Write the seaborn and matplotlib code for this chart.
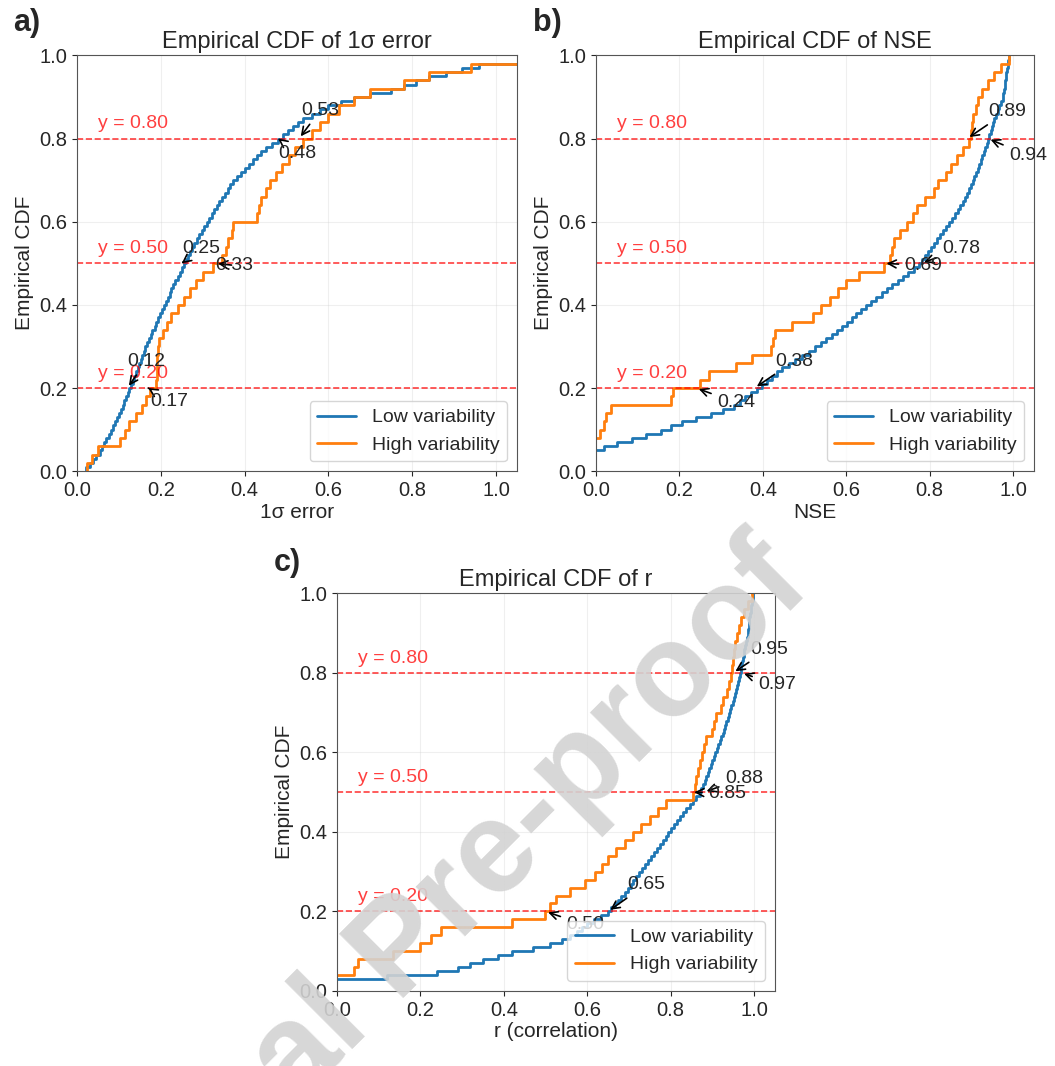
import numpy as np
import pandas as pd
import seaborn as sns
import matplotlib.pyplot as plt

# sample values
err_low = [0.022, 0.03, 0.038, 0.046, 0.055, 0.06, 0.065, 0.07, 0.076, 0.082,
           0.087, 0.091, 0.096, 0.10, 0.105, 0.109, 0.113, 0.117, 0.121, 0.125,
           0.129, 0.133, 0.137, 0.141, 0.145, 0.149, 0.152, 0.156, 0.16, 0.163,
           0.167, 0.172, 0.176, 0.18, 0.185, 0.189, 0.194, 0.198, 0.203, 0.207,
           0.212, 0.216, 0.221, 0.225, 0.23, 0.235, 0.24, 0.245, 0.25, 0.255,
           0.26, 0.265, 0.27, 0.275, 0.28, 0.286, 0.292, 0.298, 0.304, 0.31,
           0.316, 0.322, 0.328, 0.334, 0.34, 0.346, 0.353, 0.36, 0.366, 0.373,
           0.382, 0.391, 0.40, 0.41, 0.42, 0.43, 0.44, 0.45, 0.465, 0.48,
           0.492, 0.504, 0.516, 0.528, 0.54, 0.56, 0.58, 0.60, 0.63, 0.66,
           0.70, 0.75, 0.78, 0.81, 0.84, 0.88, 0.92, 0.96, 1.12, 1.25]
err_high = [0.025, 0.035, 0.05, 0.103, 0.115, 0.125, 0.14, 0.155, 0.165, 0.175,
            0.188, 0.19, 0.19, 0.192, 0.193, 0.195, 0.205, 0.215, 0.225, 0.24,
            0.255, 0.27, 0.285, 0.30, 0.325, 0.345, 0.355, 0.36, 0.37, 0.372,
            0.43, 0.435, 0.44, 0.45, 0.46, 0.475, 0.49, 0.505, 0.52, 0.54,
            0.56, 0.58, 0.60, 0.625, 0.66, 0.70, 0.78, 0.84, 0.94, 1.08]

nse_low = [-0.8, -0.5, -0.3, -0.15, -0.05, 0.02, 0.05, 0.085, 0.12, 0.155,
           0.18, 0.205, 0.24, 0.275, 0.305, 0.33, 0.345, 0.358, 0.372, 0.385,
           0.397, 0.41, 0.422, 0.434, 0.446, 0.462, 0.478, 0.494, 0.51, 0.526,
           0.539, 0.552, 0.565, 0.578, 0.59, 0.601, 0.613, 0.624, 0.636, 0.647,
           0.66, 0.672, 0.685, 0.697, 0.71, 0.723, 0.736, 0.749, 0.762, 0.775,
           0.782, 0.789, 0.796, 0.803, 0.81, 0.817, 0.825, 0.832, 0.84, 0.847,
           0.854, 0.86, 0.867, 0.873, 0.88, 0.885, 0.889, 0.894, 0.898, 0.903,
           0.907, 0.911, 0.915, 0.919, 0.923, 0.926, 0.93, 0.933, 0.937, 0.94,
           0.943, 0.946, 0.949, 0.952, 0.955, 0.959, 0.963, 0.967, 0.971, 0.975,
           0.977, 0.978, 0.98, 0.981, 0.983, 0.984, 0.986, 0.987, 0.989, 0.99]
nse_high = [-0.3, -0.2, -0.1, -0.05, 0.01, 0.02, 0.025, 0.035, 0.18, 0.185,
            0.25, 0.27, 0.335, 0.375, 0.42, 0.425, 0.43, 0.47, 0.52, 0.54,
            0.56, 0.58, 0.60, 0.63, 0.69, 0.705, 0.71, 0.715, 0.73, 0.745,
            0.76, 0.77, 0.79, 0.81, 0.82, 0.84, 0.85, 0.865, 0.88, 0.895,
            0.90, 0.902, 0.905, 0.91, 0.915, 0.925, 0.94, 0.955, 0.97, 0.99]

r_low = [-0.35, -0.15, -0.03, 0.12, 0.24, 0.29, 0.32, 0.35, 0.385, 0.42,
         0.47, 0.51, 0.54, 0.558, 0.575, 0.588, 0.60, 0.617, 0.633, 0.65,
         0.658, 0.666, 0.674, 0.682, 0.69, 0.697, 0.704, 0.711, 0.718, 0.725,
         0.732, 0.739, 0.746, 0.753, 0.76, 0.767, 0.774, 0.781, 0.788, 0.795,
         0.802, 0.809, 0.816, 0.823, 0.83, 0.838, 0.846, 0.854, 0.862, 0.87,
         0.874, 0.878, 0.882, 0.886, 0.89, 0.893, 0.897, 0.90, 0.904, 0.907,
         0.911, 0.914, 0.918, 0.921, 0.925, 0.928, 0.931, 0.934, 0.937, 0.94,
         0.943, 0.946, 0.949, 0.952, 0.955, 0.957, 0.96, 0.962, 0.965, 0.967,
         0.969, 0.97, 0.972, 0.973, 0.975, 0.977, 0.979, 0.981, 0.983, 0.985,
         0.986, 0.987, 0.988, 0.989, 0.99, 0.992, 0.994, 0.995, 0.997, 0.998]
r_high = [-0.2, -0.05, 0.04, 0.05, 0.135, 0.20, 0.225, 0.25, 0.42, 0.50,
          0.51, 0.525, 0.56, 0.595, 0.62, 0.635, 0.65, 0.67, 0.69, 0.71,
          0.73, 0.75, 0.77, 0.79, 0.855, 0.858, 0.86, 0.865, 0.87, 0.875,
          0.88, 0.885, 0.90, 0.905, 0.91, 0.92, 0.925, 0.935, 0.94, 0.945,
          0.948, 0.95, 0.952, 0.955, 0.96, 0.965, 0.97, 0.975, 0.985, 0.995]

levels = [0.2, 0.5, 0.8]

# crossing values printed in the reference
err_low_q = [0.12, 0.25, 0.48]
err_high_q = [0.17, 0.33, 0.53]
nse_low_q = [0.38, 0.78, 0.94]
nse_high_q = [0.24, 0.69, 0.89]
r_low_q = [0.65, 0.88, 0.97]
r_high_q = [0.50, 0.85, 0.95]

# label offsets (data units) for the crossing annotations
err_low_off = [(0.0, 0.065), (0.0, 0.035), (0.0, -0.035)]
err_high_off = [(0.005, -0.032), (0.0, -0.005), (0.005, 0.068)]
nse_low_off = [(0.05, 0.065), (0.05, 0.035), (0.05, -0.04)]
nse_high_off = [(0.05, -0.035), (0.05, -0.005), (0.05, 0.065)]
r_low_off = [(0.045, 0.067), (0.05, 0.035), (0.04, -0.03)]
r_high_off = [(0.05, -0.034), (0.04, -0.003), (0.04, 0.06)]

sns.set_style('ticks')
plt.rcParams['font.family'] = ['Liberation Sans', 'DejaVu Sans']

fig = plt.figure(figsize=(10.55, 10.66), dpi=100)
ax_a = fig.add_axes([0.073, 0.558, 0.417, 0.390])
ax_b = fig.add_axes([0.565, 0.558, 0.415, 0.390])
ax_c = fig.add_axes([0.3194, 0.0704, 0.415, 0.373])

panels = [
    (ax_a, 'a)', err_low, err_high, err_low_q, err_high_q, err_low_off, err_high_off,
     'Empirical CDF of 1σ error', '1σ error'),
    (ax_b, 'b)', nse_low, nse_high, nse_low_q, nse_high_q, nse_low_off, nse_high_off,
     'Empirical CDF of NSE', 'NSE'),
    (ax_c, 'c)', r_low, r_high, r_low_q, r_high_q, r_low_off, r_high_off,
     'Empirical CDF of r', 'r (correlation)'),
]

for ax, tag, low, high, low_q, high_q, low_off, high_off, title, xlabel in panels:
    df = pd.DataFrame({
        'value': low + high,
        'group': ['Low variability'] * len(low) + ['High variability'] * len(high),
    })
    sns.ecdfplot(data=df[df.group == 'Low variability'], x='value', ax=ax,
                 color='#1f77b4', lw=2, label='Low variability')
    sns.ecdfplot(data=df[df.group == 'High variability'], x='value', ax=ax,
                 color='#ff7f0e', lw=2, label='High variability')

    for lv in levels:
        ax.axhline(lv, color='red', ls='--', lw=1.2, alpha=0.75)
        ax.text(0.05, lv + 0.015, f'y = {lv:.2f}', color='red', alpha=0.75,
                fontsize=14, va='bottom', ha='left')

    for q, (dx, dy), lv in zip(low_q + high_q, low_off + high_off, levels + levels):
        ax.annotate(f'{q:.2f}', xy=(q, lv), xytext=(q + dx, lv + dy),
                    fontsize=14, ha='left', va='center',
                    arrowprops=dict(arrowstyle='->', color='black', lw=1.2))

    ax.set_xlim(0, 1.05)
    ax.set_ylim(0, 1)
    ax.set_xticks([0, 0.2, 0.4, 0.6, 0.8, 1.0])
    ax.set_yticks([0, 0.2, 0.4, 0.6, 0.8, 1.0])
    ax.tick_params(labelsize=14.5)
    ax.grid(True, alpha=0.3)
    ax.set_title(title, fontsize=17, pad=5)
    ax.set_xlabel(xlabel, fontsize=15, labelpad=2)
    ax.set_ylabel('Empirical CDF', fontsize=15)
    ax.legend(loc='lower right', fontsize=14)
    for sp in ax.spines.values():
        sp.set_color('#555555')
    ax.text(-0.145, 1.115, tag, transform=ax.transAxes, fontsize=22,
            fontweight='bold', va='top', ha='left')

# journal watermark
fig.text(0.381, 0.108, 'Journal Pre-proof', fontsize=94, fontweight='bold',
         color='#d3d3d3', alpha=0.9, rotation=45, ha='center', va='center',
         rotation_mode='anchor', zorder=10)

fig.savefig('out.png', dpi=100)
